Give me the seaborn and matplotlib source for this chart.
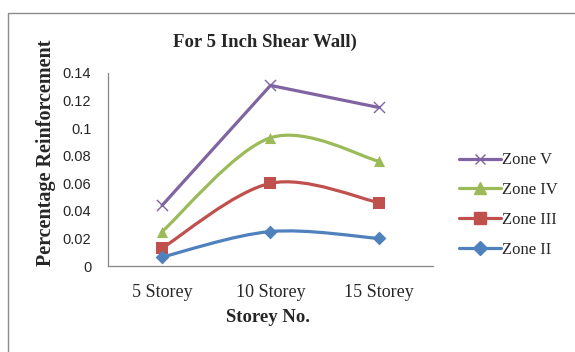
import numpy as np
import pandas as pd
import matplotlib
matplotlib.use("Agg")
import matplotlib.pyplot as plt
import seaborn as sns
from matplotlib.path import Path
from matplotlib.patches import PathPatch, Rectangle
from matplotlib.lines import Line2D

categories = ["5 Storey", "10 Storey", "15 Storey"]
zone_v = [0.044, 0.131, 0.115]
zone_iv = [0.025, 0.093, 0.076]
zone_iii = [0.013, 0.060, 0.046]
zone_ii = [0.0065, 0.025, 0.020]
series_names = ["Zone V", "Zone IV", "Zone III", "Zone II"]
yticks = [0, 0.02, 0.04, 0.06, 0.08, 0.1, 0.12, 0.14]
ytick_labels = ["0", "0.02", "0.04", "0.06", "0.08", "0.1", "0.12", "0.14"]

colors = {"Zone V": "#8064A2", "Zone IV": "#9BBB59", "Zone III": "#C0504D", "Zone II": "#4F81BD"}
markers = {"Zone V": "x", "Zone IV": "^", "Zone III": "s", "Zone II": "D"}
msizes = {"Zone V": 8, "Zone IV": 8, "Zone III": 8, "Zone II": 7}
smooth = {"Zone V": False, "Zone IV": True, "Zone III": True, "Zone II": True}

rows = []
for name, vals in zip(series_names, [zone_v, zone_iv, zone_iii, zone_ii]):
    for i, (c, v) in enumerate(zip(categories, vals)):
        rows.append({"Storey": c, "pos": i, "value": v, "Zone": name})
df = pd.DataFrame(rows)

sns.set_style("white")
fig = plt.figure(figsize=(5.75, 3.52), dpi=100)
# chart area border
fig.patches.append(Rectangle((8 / 575, -0.01), 0.999 - 8 / 575 + 0.02, 1 - 13 / 352 + 0.01,
                             transform=fig.transFigure, fill=False, edgecolor="#8c8c8c",
                             linewidth=1.0))
ax = fig.add_axes([108 / 575, 86 / 352, 325 / 575, 193 / 352])
ax.set_xlim(-0.5, 2.5)
ax.set_ylim(0, 0.14)


def bezier_path(xs, ys):
    pts = np.column_stack([xs, ys]).astype(float)
    n = len(pts)
    verts = [pts[0]]
    codes = [Path.MOVETO]
    for i in range(n - 1):
        p0 = pts[i - 1] if i > 0 else pts[i]
        p1 = pts[i]
        p2 = pts[i + 1]
        p3 = pts[i + 2] if i + 2 < n else pts[i + 1]
        c1 = p1 + (p2 - p0) / 6.0
        c2 = p2 - (p3 - p1) / 6.0
        verts += [c1, c2, p2]
        codes += [Path.CURVE4] * 3
    return Path(verts, codes)


LW = 2.3
for name in series_names:
    sub = df[df["Zone"] == name]
    if smooth[name]:
        patch = PathPatch(bezier_path(sub["pos"].values, sub["value"].values), fill=False,
                          edgecolor=colors[name], linewidth=LW, capstyle="round", zorder=2)
        ax.add_patch(patch)
    else:
        sns.lineplot(data=sub, x="pos", y="value", color=colors[name], linewidth=LW,
                     ax=ax, legend=False, zorder=2)
    sns.scatterplot(data=sub, x="pos", y="value", color=colors[name], marker=markers[name],
                    s=msizes[name] ** 2, linewidth=1.0 if name == "Zone V" else 0,
                    edgecolor=colors[name], ax=ax, legend=False, zorder=3)

ax.set_xticks(range(len(categories)))
ax.set_xticklabels(categories, family="Liberation Serif", fontsize=13)
ax.set_yticks(yticks)
ax.set_yticklabels(ytick_labels, family="Liberation Sans", fontsize=10.5)
ax.tick_params(axis="y", length=0, pad=12)
ax.tick_params(axis="x", length=0, pad=13)
for s in ["top", "right"]:
    ax.spines[s].set_visible(False)
for s in ["left", "bottom"]:
    ax.spines[s].set_color("#868686")
    ax.spines[s].set_linewidth(0.9)
ax.set_xlabel("")
ax.set_ylabel("")
fig.text(268 / 575, 1 - 318 / 352, "Storey No.", family="Liberation Serif",
         fontweight="bold", fontsize=13.5, ha="center", va="center")
fig.text(46 / 575, 1 - 153 / 352, "Percentage Reinforcement", family="Liberation Serif",
         fontweight="bold", fontsize=14.5, ha="center", va="center", rotation=90)
fig.text(265 / 575, 1 - 42 / 352, "For 5 Inch Shear Wall)", family="Liberation Serif",
         fontweight="bold", fontsize=13.5, ha="center", va="center")

handles = [Line2D([0], [0], color=colors[n], marker=markers[n], linewidth=LW,
                  markersize=msizes[n] if n != "Zone V" else 7, markeredgewidth=1.0)
           for n in series_names]
fig.legend(handles, series_names, loc="center left", bbox_to_anchor=(444 / 575, 1 - 205 / 352),
           frameon=False, prop={"family": "Liberation Serif", "size": 12}, handlelength=2.5,
           handletextpad=0.1, labelspacing=0.82)

fig.savefig("out.png", dpi=100)
